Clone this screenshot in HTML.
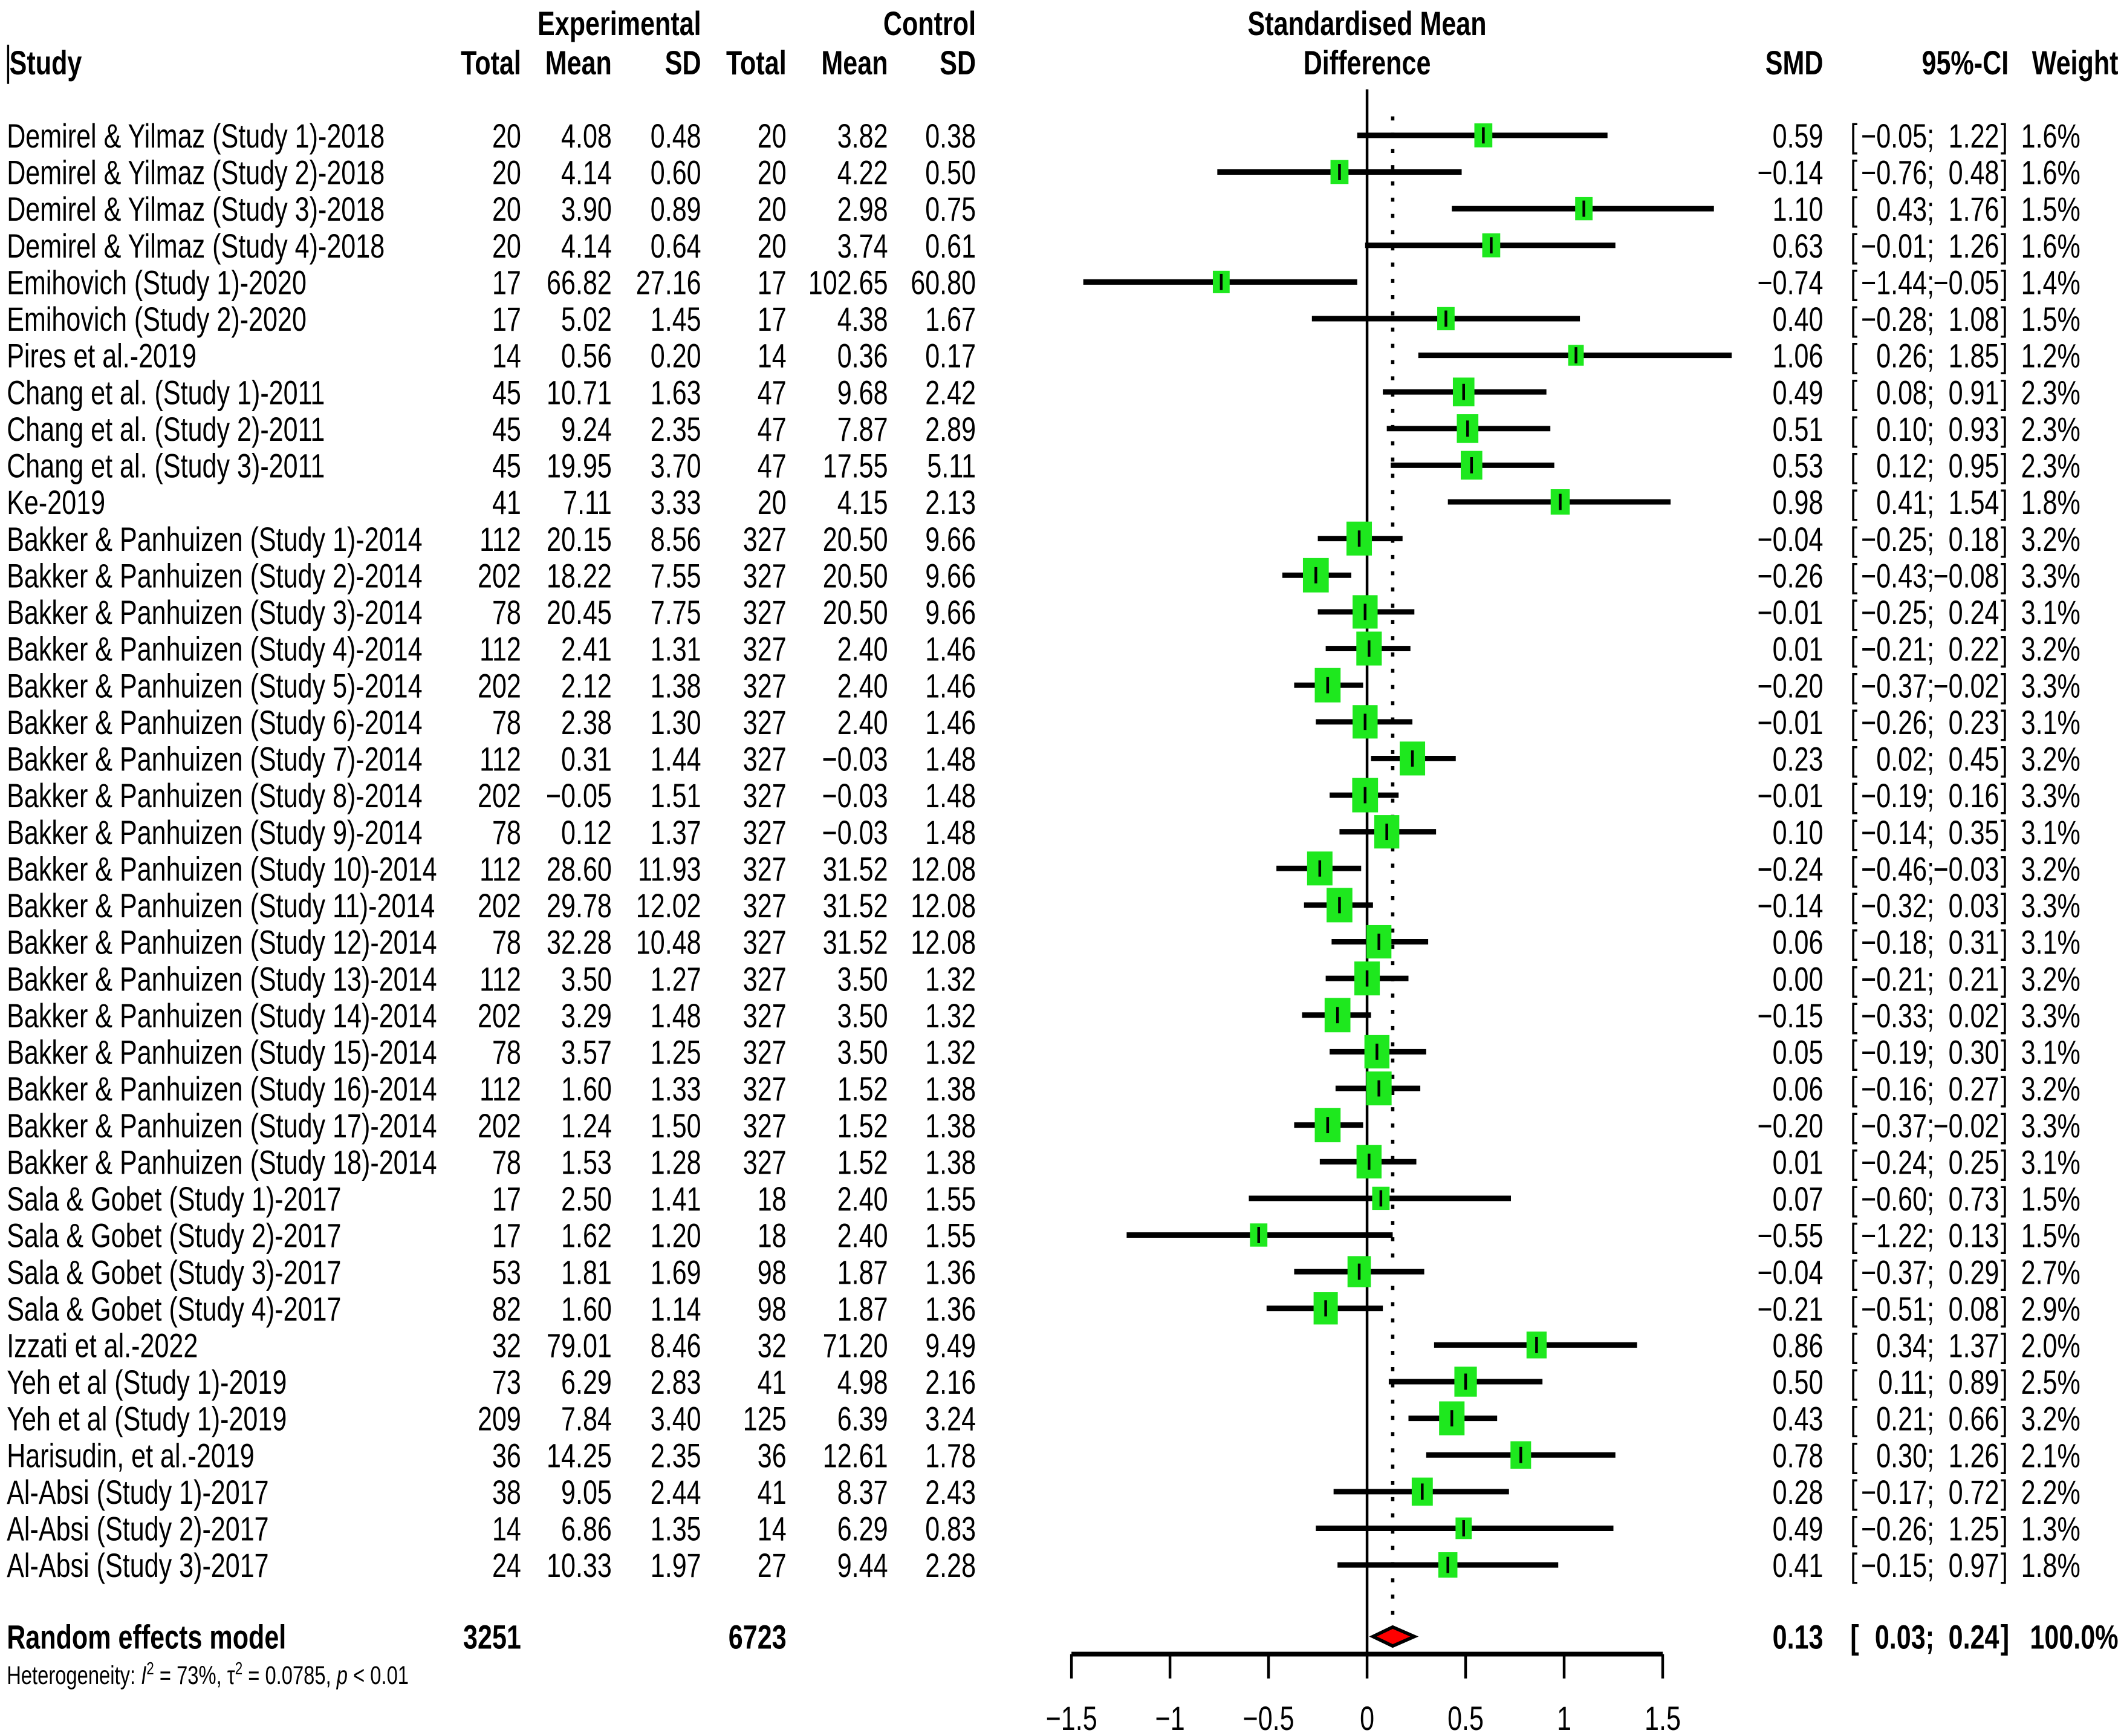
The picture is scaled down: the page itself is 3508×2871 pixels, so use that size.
<!DOCTYPE html>
<html><head><meta charset="utf-8"><style>
html,body{margin:0;padding:0;background:#fff}
svg{display:block}
text{font-family:"Liberation Sans",sans-serif;fill:#000}
</style></head><body>
<svg id="chart" width="3508" height="2871" viewBox="0 0 1567 1282.5" preserveAspectRatio="none" xmlns="http://www.w3.org/2000/svg"></svg>
<script>
const studies=["Demirel & Yilmaz (Study 1)-2018","Demirel & Yilmaz (Study 2)-2018","Demirel & Yilmaz (Study 3)-2018","Demirel & Yilmaz (Study 4)-2018","Emihovich (Study 1)-2020","Emihovich (Study 2)-2020","Pires et al.-2019","Chang et al. (Study 1)-2011","Chang et al. (Study 2)-2011","Chang et al. (Study 3)-2011","Ke-2019","Bakker & Panhuizen (Study 1)-2014","Bakker & Panhuizen (Study 2)-2014","Bakker & Panhuizen (Study 3)-2014","Bakker & Panhuizen (Study 4)-2014","Bakker & Panhuizen (Study 5)-2014","Bakker & Panhuizen (Study 6)-2014","Bakker & Panhuizen (Study 7)-2014","Bakker & Panhuizen (Study 8)-2014","Bakker & Panhuizen (Study 9)-2014","Bakker & Panhuizen (Study 10)-2014","Bakker & Panhuizen (Study 11)-2014","Bakker & Panhuizen (Study 12)-2014","Bakker & Panhuizen (Study 13)-2014","Bakker & Panhuizen (Study 14)-2014","Bakker & Panhuizen (Study 15)-2014","Bakker & Panhuizen (Study 16)-2014","Bakker & Panhuizen (Study 17)-2014","Bakker & Panhuizen (Study 18)-2014","Sala & Gobet (Study 1)-2017","Sala & Gobet (Study 2)-2017","Sala & Gobet (Study 3)-2017","Sala & Gobet (Study 4)-2017","Izzati et al.-2022","Yeh et al (Study 1)-2019","Yeh et al (Study 1)-2019","Harisudin, et al.-2019","Al-Absi (Study 1)-2017","Al-Absi (Study 2)-2017","Al-Absi (Study 3)-2017"];
const expTotal=[20,20,20,20,17,17,14,45,45,45,41,112,202,78,112,202,78,112,202,78,112,202,78,112,202,78,112,202,78,17,17,53,82,32,73,209,36,38,14,24];
const expMean=["4.08","4.14","3.90","4.14","66.82","5.02","0.56","10.71","9.24","19.95","7.11","20.15","18.22","20.45","2.41","2.12","2.38","0.31","−0.05","0.12","28.60","29.78","32.28","3.50","3.29","3.57","1.60","1.24","1.53","2.50","1.62","1.81","1.60","79.01","6.29","7.84","14.25","9.05","6.86","10.33"];
const expSD=["0.48","0.60","0.89","0.64","27.16","1.45","0.20","1.63","2.35","3.70","3.33","8.56","7.55","7.75","1.31","1.38","1.30","1.44","1.51","1.37","11.93","12.02","10.48","1.27","1.48","1.25","1.33","1.50","1.28","1.41","1.20","1.69","1.14","8.46","2.83","3.40","2.35","2.44","1.35","1.97"];
const ctlTotal=[20,20,20,20,17,17,14,47,47,47,20,327,327,327,327,327,327,327,327,327,327,327,327,327,327,327,327,327,327,18,18,98,98,32,41,125,36,41,14,27];
const ctlMean=["3.82","4.22","2.98","3.74","102.65","4.38","0.36","9.68","7.87","17.55","4.15","20.50","20.50","20.50","2.40","2.40","2.40","−0.03","−0.03","−0.03","31.52","31.52","31.52","3.50","3.50","3.50","1.52","1.52","1.52","2.40","2.40","1.87","1.87","71.20","4.98","6.39","12.61","8.37","6.29","9.44"];
const ctlSD=["0.38","0.50","0.75","0.61","60.80","1.67","0.17","2.42","2.89","5.11","2.13","9.66","9.66","9.66","1.46","1.46","1.46","1.48","1.48","1.48","12.08","12.08","12.08","1.32","1.32","1.32","1.38","1.38","1.38","1.55","1.55","1.36","1.36","9.49","2.16","3.24","1.78","2.43","0.83","2.28"];
const smd=[0.59,-0.14,1.10,0.63,-0.74,0.40,1.06,0.49,0.51,0.53,0.98,-0.04,-0.26,-0.01,0.01,-0.20,-0.01,0.23,-0.01,0.10,-0.24,-0.14,0.06,0.00,-0.15,0.05,0.06,-0.20,0.01,0.07,-0.55,-0.04,-0.21,0.86,0.50,0.43,0.78,0.28,0.49,0.41];
const ciLow=[-0.05,-0.76,0.43,-0.01,-1.44,-0.28,0.26,0.08,0.10,0.12,0.41,-0.25,-0.43,-0.25,-0.21,-0.37,-0.26,0.02,-0.19,-0.14,-0.46,-0.32,-0.18,-0.21,-0.33,-0.19,-0.16,-0.37,-0.24,-0.60,-1.22,-0.37,-0.51,0.34,0.11,0.21,0.30,-0.17,-0.26,-0.15];
const ciHigh=[1.22,0.48,1.76,1.26,-0.05,1.08,1.85,0.91,0.93,0.95,1.54,0.18,-0.08,0.24,0.22,-0.02,0.23,0.45,0.16,0.35,-0.03,0.03,0.31,0.21,0.02,0.30,0.27,-0.02,0.25,0.73,0.13,0.29,0.08,1.37,0.89,0.66,1.26,0.72,1.25,0.97];
const weights=[1.6,1.6,1.5,1.6,1.4,1.5,1.2,2.3,2.3,2.3,1.8,3.2,3.3,3.1,3.2,3.3,3.1,3.2,3.3,3.1,3.2,3.3,3.1,3.2,3.3,3.1,3.2,3.3,3.1,1.5,1.5,2.7,2.9,2.0,2.5,3.2,2.1,2.2,1.3,1.8];
const pooled=[0.13,0.03,0.24];
const pooledTotals=[3251,6723];
const xTicks=[-1.5,-1,-0.5,0,0.5,1,1.5];

const NS="http://www.w3.org/2000/svg";
const svg=document.getElementById('chart');
const SX=0.77, FS=25;
const xs=v=>1010+v*145.6;
const rowY=i=>100+i*27.08;
function el(tag,attrs,parent){const e=document.createElementNS(NS,tag);for(const k in attrs)e.setAttribute(k,attrs[k]);(parent||svg).appendChild(e);return e;}
function txt(s,x,y,anchor,opts){opts=opts||{};
  const e=el('text',{x:x/SX,y:y,'text-anchor':anchor||'start','font-size':opts.fs||FS,'font-weight':opts.bold?'bold':'normal',transform:`scale(${SX},1)`});
  e.textContent=s;return e;}
const f2=v=>(v<0?'−':'')+Math.abs(v).toFixed(2);

let t;
t=txt('Experimental',518,26,'end',{bold:1});


t=txt('Control',721,26,'end',{bold:1});


t=txt('Study',7,55,'start',{bold:1});


el('line',{x1:6,y1:33,x2:6,y2:62,stroke:'#000','stroke-width':1.5});
[['Total',385],['Mean',452],['SD',518],['Total',581],['Mean',656],['SD',721],['SMD',1347],['95%-CI',1484],['Weight',1565]].forEach(([s,x])=>{
  const h=txt(s,x,55,'end',{bold:1});
  
  
});
t=txt('Standardised Mean',1010,26,'middle',{bold:1});


t=txt('Difference',1010,55,'middle',{bold:1});



const zl=el('line',{x1:xs(0),y1:66,x2:xs(0),y2:1222,stroke:'#000','stroke-width':2});


const dl=el('line',{x1:xs(pooled[0]),y1:86,x2:xs(pooled[0]),y2:1200,stroke:'#000','stroke-width':2.5,'stroke-dasharray':'3 9'});



studies.forEach((s,i)=>{
  const y=rowY(i), b=y+9;
  const g=el('g',{});
  
  
  const add=(str,x,a)=>{const e=txt(str,x,b,a);g.appendChild(e);return e;};
  add(s,5,'start');
  add(String(expTotal[i]),385,'end');
  add(expMean[i],452,'end');
  add(expSD[i],518,'end');
  add(String(ctlTotal[i]),581,'end');
  add(ctlMean[i],656,'end');
  add(ctlSD[i],721,'end');
  add(f2(smd[i]),1347,'end');
  add('[',1367,'start');
  add(f2(ciLow[i])+';',1429,'end');
  add(f2(ciHigh[i]),1477,'end');
  add(']',1478,'start');
  add(weights[i].toFixed(1)+'%',1537,'end');
  const ci=el('line',{x1:xs(ciLow[i]),y1:y,x2:xs(ciHigh[i]),y2:y,stroke:'#000','stroke-width':4},g);
  
  
  const w=10.5*Math.sqrt(weights[i]), h=14*Math.sqrt(weights[i]);
  const sq=el('rect',{x:xs(smd[i])-w/2,y:y-h/2,width:w,height:h,fill:'#1ee81e'},g);
  
  
  const pt=el('line',{x1:xs(smd[i]),y1:y-6,x2:xs(smd[i]),y2:y+6,stroke:'#000','stroke-width':2},g);
  
  
});

const py=1209;
t=txt('Random effects model',5,py+9,'start',{bold:1});


t=txt(String(pooledTotals[0]),385,py+9,'end',{bold:1});


t=txt(String(pooledTotals[1]),581,py+9,'end',{bold:1});


t=txt(f2(pooled[0]),1347,py+9,'end',{bold:1});


t=txt('[',1367,py+9,'start',{bold:1});
t=txt(f2(pooled[1])+';',1429,py+9,'end',{bold:1});


t=txt(f2(pooled[2]),1477,py+9,'end',{bold:1});


t=txt(']',1478,py+9,'start',{bold:1});
t=txt('100.0%',1565,py+9,'end',{bold:1});


const dia=el('polygon',{points:`${xs(pooled[1])},${py} ${xs(pooled[0])},${py-7} ${xs(pooled[2])},${py} ${xs(pooled[0])},${py+7}`,fill:'#f00',stroke:'#000','stroke-width':2.5});



const het=el('text',{x:5/SX,y:1244,'font-size':19,transform:`scale(${SX},1)`});


het.innerHTML='Heterogeneity: <tspan font-style="italic">I</tspan><tspan dy="-7" font-size="13">2</tspan><tspan dy="7"> = 73%, τ</tspan><tspan dy="-7" font-size="13">2</tspan><tspan dy="7"> = 0.0785, </tspan><tspan font-style="italic">p</tspan> &lt; 0.01';

const ax=el('line',{x1:xs(xTicks[0]),y1:1222,x2:xs(xTicks[xTicks.length-1]),y2:1222,stroke:'#000','stroke-width':3.5});


xTicks.forEach(v=>{
  const tk=el('line',{x1:xs(v),y1:1222,x2:xs(v),y2:1240,stroke:'#000','stroke-width':2});
  
  
  const lb=txt(String(v).replace('-','−'),xs(v),1278,'middle');
  
  
});
</script>
</body></html>
